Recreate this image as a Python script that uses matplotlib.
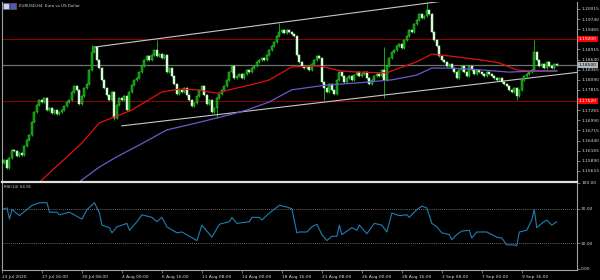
import numpy as np
import matplotlib.pyplot as plt
from matplotlib.patches import Rectangle
import matplotlib.transforms as mtransforms

# EURUSD H4 closes, one per bar
close = [
    1.1583, 1.1591, 1.1570, 1.1597, 1.1619, 1.1616, 1.1602, 1.1610, 1.1605, 1.1629,
    1.1646, 1.1659, 1.1695, 1.1722, 1.1741, 1.1754, 1.1749, 1.1760, 1.1727, 1.1733,
    1.1719, 1.1727, 1.1716, 1.1722, 1.1727, 1.1738, 1.1749, 1.1754, 1.1776, 1.1792,
    1.1782, 1.1744, 1.1765, 1.1787, 1.1798, 1.1836, 1.1885, 1.1898, 1.1863, 1.1841,
    1.1809, 1.1787, 1.1768, 1.1754, 1.1776, 1.1705, 1.1741, 1.1760, 1.1754, 1.1765,
    1.1727, 1.1776, 1.1795, 1.1809, 1.1814, 1.1830, 1.1847, 1.1863, 1.1874, 1.1863,
    1.1877, 1.1890, 1.1874, 1.1879, 1.1868, 1.1877, 1.1830, 1.1841, 1.1820, 1.1798,
    1.1771, 1.1782, 1.1776, 1.1787, 1.1768, 1.1754, 1.1738, 1.1746, 1.1765, 1.1782,
    1.1792, 1.1768, 1.1744, 1.1754, 1.1722, 1.1733, 1.1760, 1.1771, 1.1782, 1.1792,
    1.1809, 1.1830, 1.1847, 1.1814, 1.1820, 1.1825, 1.1814, 1.1825, 1.1836, 1.1830,
    1.1841, 1.1847, 1.1858, 1.1863, 1.1868, 1.1863, 1.1877, 1.1890, 1.1901, 1.1912,
    1.1928, 1.1939, 1.1944, 1.1936, 1.1944, 1.1939, 1.1934, 1.1928, 1.1877, 1.1858,
    1.1847, 1.1841, 1.1847, 1.1836, 1.1852, 1.1863, 1.1874, 1.1868, 1.1803, 1.1787,
    1.1776, 1.1798, 1.1782, 1.1771, 1.1809, 1.1830, 1.1820, 1.1803, 1.1814, 1.1820,
    1.1809, 1.1822, 1.1830, 1.1820, 1.1825, 1.1830, 1.1814, 1.1798, 1.1809, 1.1820,
    1.1825, 1.1820, 1.1836, 1.1809, 1.1847, 1.1868, 1.1885, 1.1890, 1.1901, 1.1906,
    1.1896, 1.1917, 1.1928, 1.1944, 1.1939, 1.1961, 1.1972, 1.1988, 1.1977, 1.1983,
    1.1999, 1.1988, 1.1939, 1.1917, 1.1901, 1.1874, 1.1863, 1.1858, 1.1847, 1.1852,
    1.1841, 1.1830, 1.1814, 1.1836, 1.1847, 1.1830, 1.1820, 1.1847, 1.1836, 1.1825,
    1.1836, 1.1830, 1.1825, 1.1820, 1.1830, 1.1825, 1.1820, 1.1814, 1.1809, 1.1814,
    1.1803, 1.1798, 1.1792, 1.1782, 1.1776, 1.1787, 1.1765, 1.1782, 1.1809, 1.1820,
    1.1825, 1.1830, 1.1836, 1.1885, 1.1863, 1.1847, 1.1852, 1.1841, 1.1858, 1.1847,
    1.1841, 1.1852, 1.1850,
]
first_open = 1.1590

# long wicks
hi_idx = [36, 62, 111, 153, 170, 213]
hi_val = [1.1903, 1.1917, 1.1963, 1.1898, 1.2018, 1.1917]
lo_idx = [45, 86, 129, 153, 206]
lo_val = [1.1700, 1.1705, 1.1754, 1.1760, 1.1754]

# moving averages (sampled points)
ma_red_idx = [11, 16, 32, 39, 52, 64, 71, 78, 86, 91, 103, 107, 116, 127, 136, 143,
              154, 159, 166, 172, 179, 192, 199, 206, 212, 222]
ma_red_val = [1.1507, 1.1537, 1.1637, 1.1692, 1.1727, 1.1776, 1.1784, 1.1782, 1.1773,
              1.1782, 1.1801, 1.1809, 1.1844, 1.1847, 1.1833, 1.1830, 1.1828, 1.1841,
              1.1858, 1.1879, 1.1874, 1.1863, 1.1855, 1.1836, 1.1833, 1.1833]
ma_blue_idx = [28, 32, 39, 46, 55, 66, 78, 91, 98, 107, 116, 130, 143, 156, 166, 172,
               179, 192, 203, 212, 222]
ma_blue_val = [1.1516, 1.1537, 1.1572, 1.1600, 1.1632, 1.1673, 1.1692, 1.1714, 1.1727,
               1.1749, 1.1782, 1.1795, 1.1801, 1.1809, 1.1822, 1.1841, 1.1841, 1.1836,
               1.1830, 1.1833, 1.1833]

# trend channel
upper_idx = [37, 230]
upper_val = [1.1898, 1.2071]
lower_idx = [48, 231]
lower_val = [1.1684, 1.1830]
red_levels = [1.19200, 1.17520]

# RSI(14)
rsi_idx = [0, 2, 3, 4, 7, 12, 15, 18, 19, 22, 23, 27, 32, 34, 37, 39, 40, 43, 44, 46,
           48, 50, 51, 54, 56, 60, 62, 64, 66, 70, 72, 78, 80, 84, 87, 91, 92, 94, 99, 100,
           103, 104, 107, 111, 114, 116, 118, 119, 122, 124, 126, 128, 130, 132, 134, 135,
           136, 140, 142, 143, 146, 149, 152, 154, 156, 159, 162, 163, 166, 168, 170, 172,
           174, 176, 179, 180, 182, 184, 187, 188, 190, 194, 198, 200, 202, 205, 206, 207,
           210, 212, 213, 214, 216, 218, 220, 222]
rsi_val = [69, 71, 58, 69, 62, 74, 77, 77, 66, 66, 63, 66, 58, 69, 77, 65, 51, 48, 42, 49,
           51, 53, 45, 55, 63, 60, 55, 60, 49, 42, 43, 33, 51, 37, 52, 55, 60, 53, 55, 60,
           60, 57, 65, 74, 72, 70, 42, 43, 43, 49, 52, 40, 33, 38, 38, 51,
           40, 48, 45, 51, 41, 53, 51, 43, 65, 62, 63, 60, 69, 73, 71, 53,
           49, 42, 40, 34, 40, 44, 45, 36, 43, 43, 37, 36, 28, 28, 27, 43,
           45, 57, 69, 48, 53, 57, 51, 54.91]

price_ticks = [1.20015, 1.19740, 1.19465, 1.19190, 1.18915, 1.18640, 1.18365, 1.18090,
               1.17815, 1.17540, 1.17265, 1.16990, 1.16715, 1.16440, 1.16165, 1.15890,
               1.15615]
rsi_ticks = [0, 30, 70, 100]
time_idx = [0, 16, 32, 48, 64, 80, 96, 112, 128, 144, 160, 176, 192, 208]
time_labels = ['23 Jul 2020', '27 Jul 16:00', '30 Jul 08:00', '4 Aug 00:00', '6 Aug 16:00',
               '11 Aug 08:00', '14 Aug 00:00', '18 Aug 16:00', '21 Aug 08:00',
               '26 Aug 00:00', '28 Aug 16:00', '2 Sep 08:00', '7 Sep 00:00', '9 Sep 16:00']

W, H = 600, 280
fs = 3.2
fs_head = 2.9
txt = '#d8d8d8'

fig = plt.figure(figsize=(W / 100, H / 100), dpi=100, facecolor='black')
ax = fig.add_axes([2 / W, 1 - 181 / H, 575 / W, 179 / H], facecolor='black')
rs = fig.add_axes([2 / W, 1 - 270 / H, 575 / W, 88.5 / H], facecolor='black')

x0, x1 = 0.1, 230.1
for a in (ax, rs):
    a.set_xlim(x0, x1)
    for s in a.spines.values():
        s.set_color('#a0a0a0')
        s.set_linewidth(0.8)
    a.yaxis.tick_right()
    a.tick_params(axis='y', colors='#a0a0a0', labelcolor=txt, labelsize=fs, length=2,
                  width=0.5, pad=1)
ax.spines['top'].set_visible(False)
ax.spines['bottom'].set_visible(False)
rs.spines['top'].set_color('#e0e0e0')
rs.spines['top'].set_linewidth(1.6)

# candles
close = np.array(close)
opn = np.r_[first_open, close[:-1]]
high = np.maximum(opn, close) + 0.0003
low = np.minimum(opn, close) - 0.0003
high[hi_idx] = hi_val
low[lo_idx] = lo_val
idx = np.arange(len(close))
ax.vlines(idx, low, high, color='#19c419', lw=0.6)
bw = 0.62
for i in idx:
    o, c = opn[i], close[i]
    bull = c >= o
    h = max(abs(c - o), 0.00008)
    ax.add_patch(Rectangle((i - bw / 2, min(o, c)), bw, h,
                           facecolor='#0b8a0b' if bull else '#e6ffe6',
                           edgecolor='#2ed82e' if bull else '#b8f0b8', lw=0.35, zorder=3))

ax.plot(ma_red_idx, ma_red_val, color='#e01010', lw=0.9, zorder=4)
ax.plot(ma_blue_idx, ma_blue_val, color='#6a5acd', lw=0.9, zorder=4)
ax.plot(upper_idx, upper_val, color='#c8c8c8', lw=0.8, zorder=2)
ax.plot(lower_idx, lower_val, color='#c8c8c8', lw=0.8, zorder=2)
for lv in red_levels:
    ax.axhline(lv, color='#8b0000', lw=0.8, zorder=1)
ax.axhline(close[-1], color='#707070', lw=0.9, zorder=1)

ax.set_ylim(1.15343, 1.20205)
ax.set_yticks(price_ticks)
# labels under the red level boxes are hidden, as on the terminal
ax.set_yticklabels(['' if min(abs(v - lv) for lv in red_levels) < 0.0004 else '%.5f' % v
                    for v in price_ticks])
ax.set_xticks([])

trans = mtransforms.blended_transform_factory(ax.transAxes, ax.transData)
for lv in red_levels:
    ax.text(1.0035, lv, '%.5f' % lv, transform=trans, fontsize=fs, color='white',
            va='center', ha='left', clip_on=False, zorder=6,
            bbox=dict(boxstyle='square,pad=0.2', fc='#ff0000', ec='none'))
ax.text(1.0035, close[-1], '%.5f' % close[-1], transform=trans, fontsize=fs, color='black',
        va='center', ha='left', clip_on=False, zorder=6,
        bbox=dict(boxstyle='square,pad=0.2', fc='#b0b8c0', ec='none'))

# RSI panel
rs.plot(rsi_idx, rsi_val, color='#1f7fb4', lw=0.8)
for lv in (30, 70):
    rs.axhline(lv, color='#8a8a8a', lw=0.6, ls=(0, (1, 1.5)))
rs.set_ylim(-1.2, 101.7)
rs.set_yticks(rsi_ticks)
rs.set_yticklabels(['%.2f' % v for v in rsi_ticks])
rs.set_xticks(time_idx)
rs.set_xticklabels(time_labels, ha='left')
rs.tick_params(axis='x', colors='#a0a0a0', labelcolor=txt, labelsize=fs, length=2.5,
               width=0.5, pad=1)
rs.text(0.003, 0.96, 'RSI(14) %.2f' % rsi_val[-1], transform=rs.transAxes, fontsize=fs_head,
        color=txt, va='top', ha='left')

# header
fig.patches.append(Rectangle((3 / W, 1 - 9 / H), 6 / W, 6 / H, transform=fig.transFigure,
                             fc='#d0d0e0', ec='#4060c0', lw=0.4))
fig.patches.append(Rectangle((10 / W, 1 - 9 / H), 6 / W, 6 / H, transform=fig.transFigure,
                             fc='#4060c0', ec='#c04040', lw=0.4))
fig.text(19 / W, 1 - 6 / H, 'EURUSD,H4  Euro vs US Dollar', fontsize=fs_head, color=txt,
         va='center', ha='left')

fig.savefig('out.png', dpi=100, facecolor='black')
